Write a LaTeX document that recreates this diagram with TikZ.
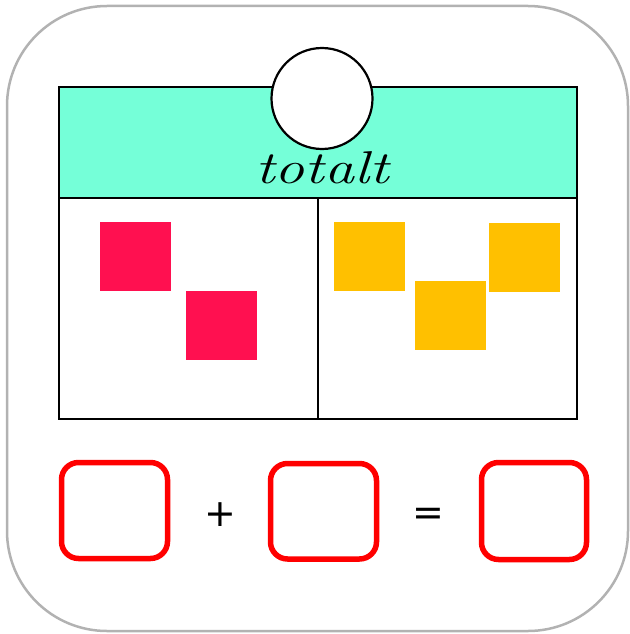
\documentclass[tikz,border=0pt]{standalone}
\usepackage{fontspec}
\newfontfamily\signfont{DejaVu Sans}
\definecolor{outergray}{RGB}{178,178,178}
\definecolor{headcol}{RGB}{117,255,216}
\definecolor{pinkcol}{RGB}{255,16,80}
\definecolor{orangecol}{RGB}{255,192,0}
\definecolor{redcol}{RGB}{255,0,0}
\begin{document}
\begin{tikzpicture}[x=1pt,y=-1pt,
  blk/.style={draw=black,line width=2.2pt},
  pinksq/.style={fill=pinkcol},
  orangesq/.style={fill=orangecol},
  answerbox/.style={draw=redcol,line width=5.5pt,rounded corners=17pt},
  sign/.style={font=\signfont\fontsize{38}{38}\selectfont,inner sep=0pt}]
\useasboundingbox (0,0) rectangle (629,634);
% outer frame
\draw[outergray,line width=2.5pt,rounded corners=100pt] (7,6) rectangle (628,631);
% header
\draw[blk,fill=headcol] (59,87) rectangle (577,198);
% lower table
\draw[blk] (59,198) rectangle (577,419);
\draw[blk] (318,198) -- (318,419);
% circle
\node[draw=black,line width=2.2pt,fill=white,circle,minimum size=101pt,inner sep=0pt] (c) at (322,98.5) {};
\node[font=\itshape\fontsize{46}{46}\selectfont,inner sep=0pt,anchor=base,xscale=1.3] (t) at (322,183) {totalt};
% pink squares
\fill[pinksq] (100,222) rectangle (171,291);
\fill[pinksq] (186,291) rectangle (257,360);
% orange squares
\fill[orangesq] (334,222) rectangle (405,291);
\fill[orangesq] (415,281) rectangle (486,350);
\fill[orangesq] (489,223) rectangle (560,292);
% answer boxes
\draw[answerbox] (61.5,462.5) rectangle (167.5,558.5);
\draw[answerbox] (270.5,463.5) rectangle (376.5,559);
\draw[answerbox] (481.5,462.5) rectangle (586.5,559.5);
\node[sign] (p) at (220,515) {+};
\node[sign] (e) at (428,517) {=};
\end{tikzpicture}
\end{document}
